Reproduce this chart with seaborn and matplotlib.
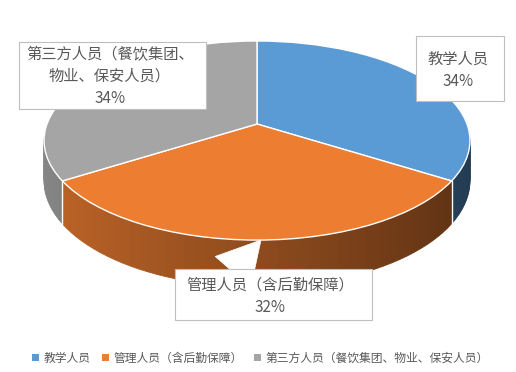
import numpy as np
import matplotlib
matplotlib.use('Agg')
import matplotlib.pyplot as plt
import matplotlib.transforms as mtransforms
import matplotlib.colors as mcolors
from matplotlib.patches import Patch, Rectangle
import seaborn as sns

# ---- data ----
categories = ['教学人员', '管理人员（含后勤保障）', '第三方人员（餐饮集团、物业、保安人员）']
values = [34, 32, 34]
box_texts = ['教学人员\n34%', '管理人员（含后勤保障）\n32%', '第三方人员（餐饮集团、\n物业、保安人员）\n34%']
colors = ['#5B9BD5', '#ED7D31', '#A5A5A5']

sns.set_theme(style='white')
plt.rcParams['font.family'] = ['Noto Sans CJK SC', 'DejaVu Sans']

W, H = 516, 372
fig = plt.figure(figsize=(W / 100, H / 100), dpi=100)
ax = fig.add_axes([0, 0, 1, 1])

# perspective layout of the tilted pie (pixel units)
CX, CY, R, KR, A = 257, 124, 210, 96.8, 0.166
DEPTH = 39


class Persp(mtransforms.Transform):
    input_dims = 2
    output_dims = 2
    is_separable = False

    def __init__(self, h=0.0):
        super().__init__()
        self.h = h

    def transform_non_affine(self, xy):
        xy = np.asarray(xy, float)
        x, y = xy[:, 0], xy[:, 1]
        s = 1.0 / (1.0 + A * y)
        return np.column_stack([CX + R * x * s, CY - KR * y * s + self.h * s])


total = float(sum(values))

# ---- side (shaded) built from stacked pies ----
nsub = 48
sub_vals, sub_cols = [], []
cum = 0.0
for v, c in zip(values, colors):
    base = np.array(mcolors.to_rgb(c))
    for j in range(nsub):
        mid = (cum + v * (j + 0.5) / nsub) / total * 2 * np.pi
        f = 0.6 - 0.22 * np.sin(mid)
        sub_vals.append(v / nsub)
        sub_cols.append(tuple(np.clip(base * f, 0, 1)))
    cum += v

for h in np.arange(DEPTH, 0, -1.5):
    wedges, _ = ax.pie(sub_vals, colors=sub_cols, startangle=90, counterclock=False,
                       wedgeprops=dict(linewidth=0.6))
    t = Persp(h) + ax.transData
    for w, col in zip(wedges, sub_cols):
        w.set_edgecolor(col)
        w.set_transform(t)

# ---- top face ----
wedges, _ = ax.pie(values, colors=colors, startangle=90, counterclock=False,
                   wedgeprops=dict(edgecolor='white', linewidth=1.0))
for w in wedges:
    w.set_transform(Persp(0) + ax.transData)

# white slice boundaries on the visible side
cum = 0.0
for v in values:
    ang = cum / total * 2 * np.pi
    if np.cos(ang) < 0:
        p = np.array([[np.sin(ang), np.cos(ang)]])
        top = Persp(0).transform(p)[0]
        bot = Persp(DEPTH).transform(p)[0]
        ax.plot([top[0], bot[0]], [top[1], bot[1]], color='white', lw=1.0, zorder=3)
    cum += v

ax.set_aspect('auto')
ax.set_xlim(0, W)
ax.set_ylim(H, 0)
ax.axis('off')

# ---- data labels (callout boxes) ----
label_boxes = [(416, 36, 504, 101), (175, 269, 372, 320), (19, 42, 206, 109)]
label_centers = [(458, 70), (270, 296.5), (110, 76.5)]
for txt, (x0, y0, x1, y1), (x, y) in zip(box_texts, label_boxes, label_centers):
    ax.add_patch(Rectangle((x0, y0), x1 - x0, y1 - y0, fc='white', ec='#BFBFBF',
                           lw=0.8, zorder=5))
    ax.text(x, y, txt, ha='center', va='center', multialignment='center', fontsize=11,
            color='#595959', linespacing=1.4, zorder=6)

ax.annotate('', xy=(261, 240), xytext=(233, 272),
            arrowprops=dict(arrowstyle='wedge,tail_width=3.4,shrink_factor=0.5',
                            fc='white', ec='white', lw=0.5, shrinkA=0, shrinkB=0,
                            mutation_scale=10), zorder=4)

# ---- legend ----
handles = [Patch(facecolor=c, edgecolor='none') for c in colors]
ax.legend(handles, categories, loc='center', bbox_to_anchor=(0.505, (H - 358) / H), ncol=3,
          frameon=False, fontsize=8.5, handlelength=0.55, handleheight=0.55,
          handletextpad=0.4, columnspacing=1.0, labelcolor='#595959')

fig.savefig('out.png', dpi=100)
